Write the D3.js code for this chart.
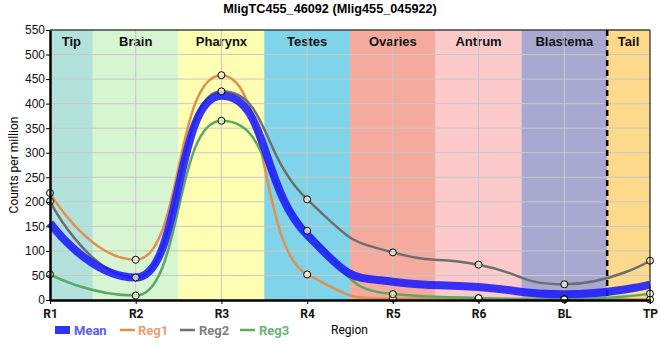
<!DOCTYPE html>
<html><head><meta charset="utf-8">
<script src="https://cdn.jsdelivr.net/npm/d3@7"></script>
<style>body{margin:0;background:#fff}</style>
</head><body><svg id="c" width="660" height="360"></svg>
<script>
const categories = ["R1","R2","R3","R4","R5","R6","BL","TP"];
const reg1 = [218, 82, 458, 52, 3, 3, 2, 1];
const reg2 = [201, 46, 425, 205, 97, 72, 32, 80];
const reg3 = [52, 9, 365, 141, 12, 4, 1, 13];
const meanVals = categories.map((c,i)=>(reg1[i]+reg2[i]+reg3[i])/3);
const regions = ["Tip","Brain","Pharynx","Testes","Ovaries","Antrum","Blastema","Tail"];
const regionColors = ["#b3e2dd","#d6f5d0","#ffffb3","#80d4ea","#f4aa9c","#fccaca","#a8a8d0","#fdd98b"];
const yTicks = d3.range(0, 551, 50);

const svg = d3.select("#c");
const L=50,R=650,T=30,B=300;
const x = d3.scalePoint().domain(categories).range([L,R]);
const y = d3.scaleLinear().domain([0,550]).range([B,T]);
const step = x.step();

// bands
regions.forEach((r,i)=>{
  const x0 = Math.max(L, x(categories[i]) - step/2);
  const x1 = Math.min(R, x(categories[i]) + step/2);
  svg.append("rect").attr("x",x0).attr("y",T).attr("width",x1-x0).attr("height",B-T).attr("fill",regionColors[i]);
  svg.append("text").attr("x",(x0+x1)/2).attr("y",T+16).attr("text-anchor","middle")
    .attr("font-family","Liberation Sans, Arial, sans-serif").attr("font-weight","bold").attr("font-size",13)
    .attr("fill","#111").text(r);
});
// grid
svg.append("g").selectAll("line").data(yTicks.slice(1)).join("line")
  .attr("x1",L).attr("x2",R).attr("y1",d=>y(d)).attr("y2",d=>y(d)).attr("stroke","#c8c8c8").attr("stroke-width",1);
svg.append("g").selectAll("line").data(categories.slice(1,-1)).join("line")
  .attr("x1",d=>x(d)).attr("x2",d=>x(d)).attr("y1",T).attr("y2",B).attr("stroke","#c8c8c8").attr("stroke-width",1);
// dashed separator between Blastema and Tail
const sep = x("BL")+step/2;
svg.append("line").attr("x1",sep).attr("x2",sep).attr("y1",T).attr("y2",B)
  .attr("stroke","#000").attr("stroke-width",2.5).attr("stroke-dasharray","6,4");

// spline with horizontal-ish control points (no overshoot at extremes)
function splinePath(vals){
  const pts = vals.map((v,i)=>({x:x(categories[i]), y:y(v)}));
  const sm = 0.85, den = sm+1;
  const p = d3.path();
  p.moveTo(pts[0].x, pts[0].y);
  let prevRight = null;
  for(let i=1;i<pts.length;i++){
    const pt = pts[i], last = pts[i-1], next = pts[i+1];
    let lcx = pt.x, lcy = pt.y, rc = null;
    if(next){
      lcx = (sm*pt.x + last.x)/den; lcy = (sm*pt.y + last.y)/den;
      const rcx = (sm*pt.x + next.x)/den; let rcy = (sm*pt.y + next.y)/den;
      let corr = 0;
      if(rcx !== lcx) corr = ((rcy - lcy)*(rcx - pt.x))/(rcx - lcx) + pt.y - rcy;
      lcy += corr; rcy += corr;
      if(lcy > last.y && lcy > pt.y){ lcy = Math.max(last.y, pt.y); rcy = 2*pt.y - lcy; }
      else if(lcy < last.y && lcy < pt.y){ lcy = Math.min(last.y, pt.y); rcy = 2*pt.y - lcy; }
      if(rcy > next.y && rcy > pt.y){ rcy = Math.max(next.y, pt.y); lcy = 2*pt.y - rcy; }
      else if(rcy < next.y && rcy < pt.y){ rcy = Math.min(next.y, pt.y); lcy = 2*pt.y - rcy; }
      rc = {x:rcx, y:rcy};
    }
    const c1 = prevRight || last;
    p.bezierCurveTo(c1.x, c1.y, lcx, lcy, pt.x, pt.y);
    prevRight = rc;
  }
  return p.toString();
}

const series = [
  {name:"Reg1", vals:reg1, color:"#e0904f"},
  {name:"Reg2", vals:reg2, color:"#6e6e6e"},
  {name:"Reg3", vals:reg3, color:"#5aa866"}
];
series.forEach(s=>{
  svg.append("path").attr("d",splinePath(s.vals)).attr("fill","none").attr("stroke",s.color).attr("stroke-width",2.5);
});
svg.append("path").attr("d",splinePath(meanVals)).attr("fill","none").attr("stroke","#1a1aff").attr("stroke-opacity",0.88).attr("stroke-width",8);
series.forEach(s=>{
  svg.append("g").selectAll("circle").data(s.vals).join("circle")
    .attr("cx",(d,i)=>x(categories[i])).attr("cy",d=>y(d)).attr("r",3.5)
    .attr("fill","#ffffdd").attr("fill-opacity",0.7).attr("stroke","#000").attr("stroke-width",1);
});

// frame
svg.append("line").attr("x1",L).attr("x2",R).attr("y1",T).attr("y2",T).attr("stroke","#000").attr("stroke-width",1);
svg.append("line").attr("x1",R).attr("x2",R).attr("y1",T).attr("y2",B).attr("stroke","#000").attr("stroke-width",1);

// axes
const yAxis = svg.append("g").attr("transform",`translate(${L},0)`).call(d3.axisLeft(y).tickValues(yTicks).tickSize(4).tickSizeOuter(0));
yAxis.select(".domain").attr("stroke-width",2.5);
yAxis.selectAll("text").attr("font-family","Liberation Sans, Arial, sans-serif").attr("font-size",12).attr("fill","#111").attr("dx",2);
const xAxis = svg.append("g").attr("transform",`translate(0,${B})`).call(d3.axisBottom(x).tickSize(4).tickSizeOuter(0));
xAxis.select(".domain").attr("stroke-width",2.5);
xAxis.selectAll("text").attr("font-family","Roboto, sans-serif").attr("font-weight","bold").attr("font-size",12).attr("fill","#111").attr("dy","0.9em");

// labels
svg.append("text").attr("x",330).attr("y",13).attr("text-anchor","middle")
  .attr("font-family","Liberation Sans, Arial, sans-serif").attr("font-weight","bold").attr("font-size",12.7)
  .text("MligTC455_46092 (Mlig455_045922)");
svg.append("text").attr("transform","translate(18,165) rotate(-90)").attr("text-anchor","middle")
  .attr("font-family","Roboto, sans-serif").attr("font-size",12).text("Counts per million");
svg.append("text").attr("x",331).attr("y",334)
  .attr("font-family","Roboto, sans-serif").attr("font-size",12).text("Region");

// legend
const leg = [
  {name:"Mean", color:"#3333ff", tc:"#5a5aff", w:8, lx:55, tx:74},
  {name:"Reg1", color:"#e0904f", tc:"#e8a070", w:2.5, lx:120, tx:138},
  {name:"Reg2", color:"#6e6e6e", tc:"#808080", w:2.5, lx:180, tx:199},
  {name:"Reg3", color:"#5aa866", tc:"#6cb478", w:2.5, lx:240, tx:259}
];
leg.forEach(l=>{
  svg.append("line").attr("x1",l.lx).attr("x2",l.lx+15).attr("y1",330).attr("y2",330).attr("stroke",l.color).attr("stroke-width",l.w);
  svg.append("text").attr("x",l.tx).attr("y",335).attr("font-family","Roboto, sans-serif").attr("font-weight","bold")
    .attr("font-size",13).attr("fill",l.tc).text(l.name);
});
</script></body></html>
